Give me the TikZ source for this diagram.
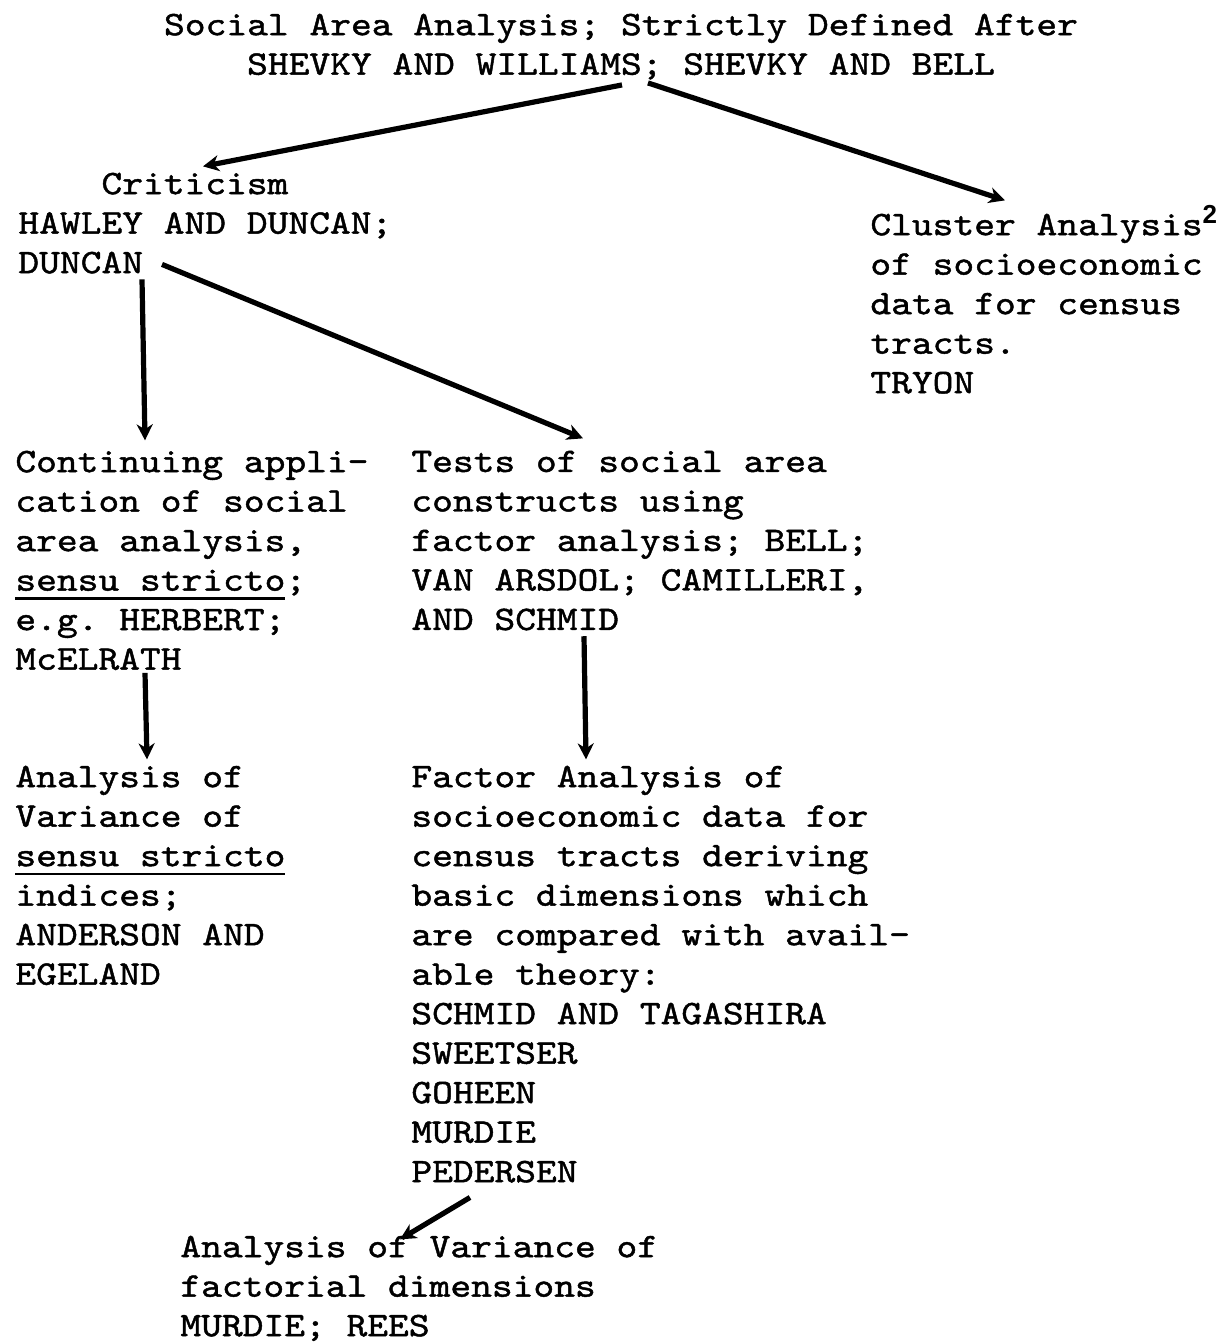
\documentclass[tikz,border=0pt]{standalone}
\usepackage{fontspec}
\usetikzlibrary{arrows.meta,calc}
\newfontfamily\typeface{lmmono10-regular.otf}[FakeStretch = 1.15, FakeBold = 1.3]
\newfontfamily\supface{Liberation Sans}

\def\typeSize{17.2pt}
\def\typeSkip{19.75pt}
\def\arrowThickness{2.6pt}

\newcommand\ulined[1]{\setbox0=\hbox{#1}\rlap{\rule[-4.5pt]{\wd0}{1.1pt}}\box0}

\tikzset{
    typed/.style = {anchor = north west, inner sep = 0pt, align = left,
        font = \typeface\fontsize{\typeSize}{\typeSkip}\selectfont\frenchspacing,
        execute at begin node = \strut, execute at end node = \strut},
    pointer/.style = {line width = \arrowThickness,
        -{Stealth[length = 8pt, width = 8pt, inset = 2.5pt]}}
}

\begin{document}
\begin{tikzpicture}[x = 0.5pt, y = -0.5pt]
            \useasboundingbox [fill = white] (0,0) rectangle (1227,1344);
            %% heading
            \node [typed, anchor = north, align = center] (title) at (621,13.35)
            {Social Area Analysis; Strictly Defined After\\
            SHEVKY AND WILLIAMS; SHEVKY AND BELL};
            %% second row
            \node [typed] (critic) at (18,172.35)
            {~~~~Criticism\\
            HAWLEY AND DUNCAN;\\
            DUNCAN};
            \node [typed] (cluster) at (870,213.35)
            {Cluster Analysis\smash{\raisebox{6pt}{\supface\bfseries\fontsize{13pt}{14pt}\selectfont 2}}\\
            of socioeconomic\\
            data for census\\
            tracts.\\
            TRYON};
            %% third row
            \node [typed] (contin) at (15,450.35)
            {Continuing appli-\\
            cation of social\\
            area analysis,\\
            \ulined{sensu stricto};\\
            e.g. HERBERT;\\
            McELRATH};
            \node [typed] (tests) at (411,450.35)
            {Tests of social area\\
            constructs using\\
            factor analysis; BELL;\\
            VAN ARSDOL; CAMILLERI,\\
            AND SCHMID};
            %% fourth row
            \node [typed] (anovaL) at (15,765.35)
            {Analysis of\\
            Variance of\\
            \ulined{sensu stricto}\\
            indices;\\
            ANDERSON AND\\
            EGELAND};
            \node [typed] (factor) at (411,765.35)
            {Factor Analysis of\\
            socioeconomic data for\\
            census tracts deriving\\
            basic dimensions which\\
            are compared with avail-\\
            able theory:\\
            SCHMID AND TAGASHIRA\\
            SWEETSER\\
            GOHEEN\\
            MURDIE\\
            PEDERSEN};
            %% last row
            \node [typed] (anovaF) at (180,1235.35)
            {Analysis of Variance of\\
            factorial dimensions\\
            MURDIE; REES};
            %% arrows
            \draw [pointer] ($(title.south)+(1,-2)$) -- ($(critic.north west)+(185,-6)$);
            \draw [pointer] ($(title.south)+(27,-4)$) -- ($(cluster.north west)+(135,-13)$);
            \draw [pointer] ($(critic.south west)+(124,-6)$) -- ($(contin.north west)+(130,-10)$);
            \draw [pointer] ($(critic.south west)+(144,-21)$) -- ($(tests.north west)+(172,-12)$);
            \draw [pointer] ($(contin.south west)+(130,-9)$) -- ($(anovaL.north west)+(132,-6)$);
            \draw [pointer] ($(tests.south west)+(173,-6)$) -- ($(factor.north west)+(175,-6)$);
            \draw [pointer] ($(factor.south west)+(59,3)$) -- ($(anovaF.north west)+(220,4)$);
\end{tikzpicture}
\end{document}
